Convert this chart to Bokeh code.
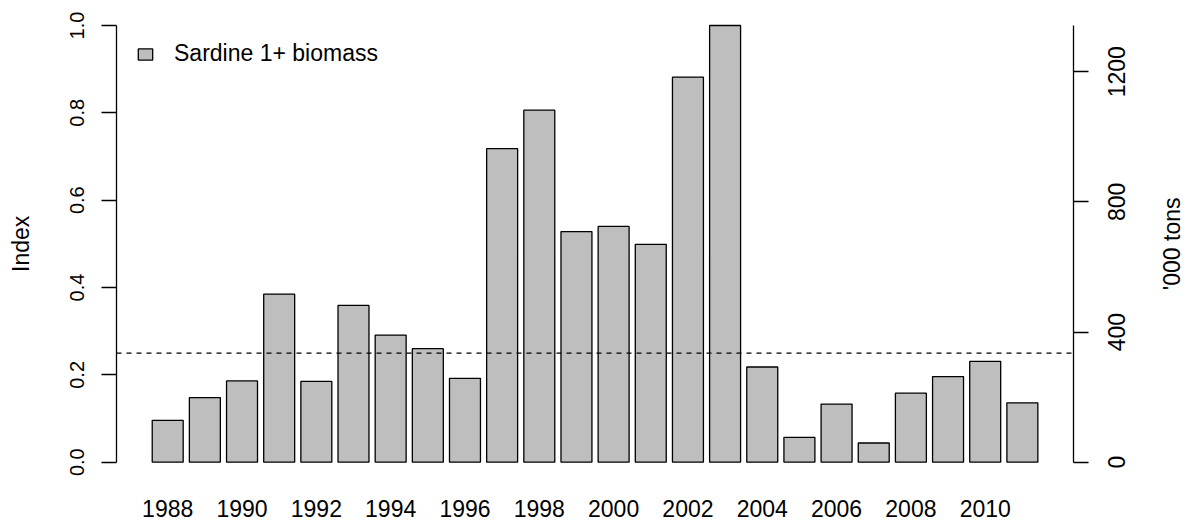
import math
from bokeh.plotting import figure
from bokeh.layouts import row
from bokeh.models import (Range1d, LinearAxis, FixedTicker, Span, Legend, LegendItem,
                          ColumnDataSource, Grid)
from bokeh.embed import file_html
from bokeh.resources import INLINE
from bokeh.core.properties import value

# ---- data ----
years = list(range(1988, 2012))
biomass_index = [0.096, 0.148, 0.186, 0.385, 0.185, 0.359, 0.291, 0.260, 0.192, 0.718,
                 0.806, 0.528, 0.540, 0.499, 0.882, 1.000, 0.218, 0.057, 0.133, 0.044,
                 0.158, 0.196, 0.231, 0.136]
max_biomass_kt = 1342          # '000 tons corresponding to index 1.0
threshold_index = 0.25
year_labels = list(range(1988, 2011, 2))
left_ticks = [0.0, 0.2, 0.4, 0.6, 0.8, 1.0]
right_ticks = [0, 400, 800, 1200]
series_name = "Sardine 1+ biomass"
left_title = "Index"
right_title = "'000 tons"

FONT = "Liberation Sans"
FS = "23px"
FS_LEFT_TICKS = "20px"

H = 522
TOP = 8
LEFT_W, MAIN_W, RIGHT_W = 100, 989, 101
x0, x1 = 1986.622, 2012.376
y1 = 1.03893
px_per_unit = 436.7
y0 = y1 - (H - TOP) / px_per_unit      # frames reach the bottom edge
ymid = 0.5                              # centre of the 0..1 value axis
year_label_y = -0.106                   # place of year labels under the bars

yr_idx = Range1d(y0, y1)
yr_kt = Range1d(y0 * max_biomass_kt, y1 * max_biomass_kt)


def clean(fig):
    fig.outline_line_color = None
    fig.background_fill_color = "white"
    fig.border_fill_color = "white"
    for r in list(fig.center):
        if isinstance(r, Grid):
            r.visible = False


# ---------------- main plot ----------------
p = figure(width=MAIN_W, height=H, output_backend="svg", toolbar_location=None,
           x_range=Range1d(x0, x1), y_range=yr_idx,
           x_axis_location=None, y_axis_location=None,
           min_border_left=16, min_border_right=16, min_border_top=TOP, min_border_bottom=0)
clean(p)
p.extra_y_ranges = {"kt": yr_kt}

src = ColumnDataSource(dict(year=years, idx=biomass_index))
bars = p.vbar(x="year", top="idx", bottom=0, width=1 / 1.2, source=src,
              fill_color="#BEBEBE", line_color="black", line_width=1.3)

p.add_layout(Span(location=threshold_index, dimension="width", line_dash="5 5",
                  line_color="black", line_width=1.3))

ly = LinearAxis(bounds=(0, 1), ticker=FixedTicker(ticks=left_ticks))
ry = LinearAxis(y_range_name="kt", bounds=(0, max_biomass_kt),
                ticker=FixedTicker(ticks=right_ticks))
for ax in (ly, ry):
    ax.minor_tick_line_color = None
    ax.major_tick_in = 0
    ax.major_tick_out = 15
    ax.axis_line_width = 1.3
    ax.major_tick_line_width = 1.3
    ax.major_label_text_color = None
    ax.major_label_text_font_size = "1px"
    ax.major_label_standoff = 0
p.add_layout(ly, "left")
p.add_layout(ry, "right")

ysrc = ColumnDataSource(dict(year=year_labels, txt=[str(y) for y in year_labels]))
p.text(x="year", y=year_label_y, text="txt", source=ysrc, text_align="center",
       text_baseline="middle", text_font=value(FONT), text_font_size=FS, text_color="black")

legend = Legend(items=[LegendItem(label=series_name, renderers=[bars])],
                location=(20, 455), padding=0, margin=0, spacing=0,
                glyph_width=18, glyph_height=14, label_standoff=20,
                border_line_color=None, background_fill_alpha=0,
                label_text_font=FONT, label_text_font_size=FS, label_text_color="black")
p.add_layout(legend)

# ---------------- left labels panel ----------------
pl = figure(width=LEFT_W, height=H, output_backend="svg", toolbar_location=None,
            x_range=Range1d(0, LEFT_W), y_range=yr_idx,
            x_axis_location=None, y_axis_location=None,
            min_border_left=0, min_border_right=0, min_border_top=TOP, min_border_bottom=0)
clean(pl)
lsrc = ColumnDataSource(dict(y=left_ticks, txt=["%.1f" % t for t in left_ticks]))
pl.text(x=76, y="y", text="txt", source=lsrc, angle=math.pi / 2, text_align="center",
        text_baseline="middle", text_font=value(FONT), text_font_size=FS_LEFT_TICKS,
        text_color="black")
pl.text(x=[20.5], y=[ymid], text=[left_title], angle=math.pi / 2, text_align="center",
        text_baseline="middle", text_font=value(FONT), text_font_size=FS, text_color="black")

# ---------------- right labels panel ----------------
pr = figure(width=RIGHT_W, height=H, output_backend="svg", toolbar_location=None,
            x_range=Range1d(0, RIGHT_W), y_range=yr_kt,
            x_axis_location=None, y_axis_location=None,
            min_border_left=0, min_border_right=0, min_border_top=TOP, min_border_bottom=0)
clean(pr)
rsrc = ColumnDataSource(dict(y=right_ticks, txt=[str(t) for t in right_ticks]))
pr.text(x=27, y="y", text="txt", source=rsrc, angle=math.pi / 2, text_align="center",
        text_baseline="middle", text_font=value(FONT), text_font_size=FS, text_color="black")
pr.text(x=[82.5], y=[ymid * max_biomass_kt], text=[right_title], angle=math.pi / 2,
        text_align="center", text_baseline="middle", text_font=value(FONT),
        text_font_size=FS, text_color="black")

layout = row(pl, p, pr, spacing=0)
open("out.html", "w").write(file_html(layout, INLINE))
